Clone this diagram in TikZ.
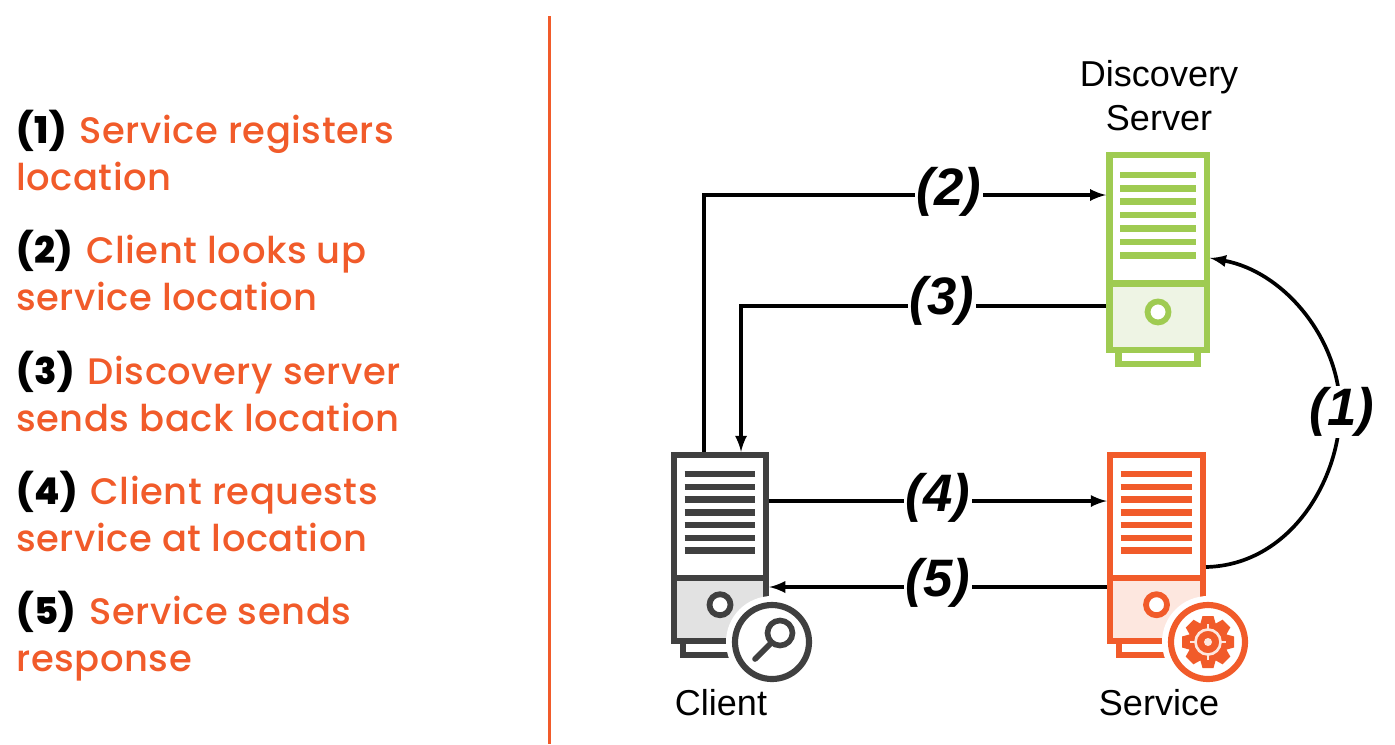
\documentclass[tikz,border=0pt]{standalone}
\usepackage{fontspec}
\setmainfont{Liberation Sans}
\newfontfamily\slidefont[LetterSpace=1.5]{Poppins Medium}
\definecolor{psorange}{HTML}{F15B2A}
\definecolor{psgreen}{HTML}{9FCB52}
\definecolor{psdark}{HTML}{404040}
\definecolor{tintorange}{HTML}{FDE7DF}
\definecolor{tintgreen}{HTML}{EEF4E4}
\definecolor{tintdark}{HTML}{E2E2E2}
\tikzset{
  towerline/.style={line width=3.7pt,line join=miter},
  flow/.style={line width=2.1pt,black},
  flag/.style={fill=white,inner sep=1pt,font=\fontsize{30}{30}\selectfont\bfseries\itshape},
  caption/.style={font=\fontsize{20.5}{25}\selectfont,align=center,anchor=base},
  stepnote/.style={font=\slidefont\fontsize{21}{26.2}\selectfont,text=psorange,align=left,anchor=base west,inner sep=0pt}
}
% name, colour, tint, left, top, width, height
\newcommand{\towerbox}[7]{
\begin{scope}[shift={(#4,#5)}]
\draw[towerline,#2,fill=white] (#6*.095,#7) rectangle (#6*.905,#7+14);
\node[towerline,draw=#2,fill=#3,minimum width=#6*0.02cm,minimum height=#7*0.02cm,inner sep=0pt] (#1) at (#6/2,#7/2) {};
\draw[towerline,#2,fill=white] (0,0) rectangle (#6,#7*.66);
\foreach \r in {0,...,6}
\draw[towerline,#2] (#6*.115,#7*.102+#7*.0687*\r) -- (#6*.885,#7*.102+#7*.0687*\r);
\draw[line width=3.3pt,#2,fill=white] (#6*.5,#7*.805) circle[radius=10.5];
\end{scope}
}
\begin{document}
\begin{tikzpicture}[x=0.02cm,y=-0.02cm]
\useasboundingbox (0,0) rectangle (1395,744);
\draw[line width=1.7pt,psorange] (549,16) -- (549,744);
% left column
\foreach \n/\first/\second/\y in {1/Service registers/location/190,
  2/Client looks up/service location/310,
  3/Discovery server/sends back location/431,
  4/Client requests/service at location/551,
  5/Service sends/response/671}
\node[stepnote] (note\n) at (16,\y) {\textcolor{black}{\bfseries(\n)}\hspace{1.7pt} \first\\\second};
% towers
\towerbox{disc}{psgreen}{tintgreen}{1109.25}{155}{97.5}{195}
\towerbox{client}{psdark}{tintdark}{674}{455}{92}{186}
\towerbox{serv}{psorange}{tintorange}{1110}{455}{93}{186}
% client badge
\fill[white] (772,642) circle[radius=46];
\node[draw=psdark,line width=3.5pt,fill=white,circle,minimum size=74*0.02cm,inner sep=0pt] (lens) at (772,642) {};
\draw[line width=3.2pt,psdark] (780,633) circle[radius=12.5];
\draw[line width=3.2pt,psdark,line cap=round] (771,643) -- (755,659);
% service badge
\fill[white] (1208,642) circle[radius=46];
\node[draw=psorange,line width=3.5pt,fill=white,circle,minimum size=74*0.02cm,inner sep=0pt] (gear) at (1208,642) {};
\fill[psorange] (1208,642) circle[radius=20];
\foreach \a in {0,45,...,315}
\fill[psorange,shift={(1208,642)},rotate=\a] (-8,-17) -- (-5.5,-26) -- (5.5,-26) -- (8,-17) -- cycle;
\draw[line width=1.5pt,tintorange] (1208,642) circle[radius=12.5];
\foreach \a in {0,90,180,270}
\draw[line width=1.5pt,tintorange,shift={(1208,642)},rotate=\a] (0,-12.5) -- (0,-18);
\fill[tintorange] (1208,642) circle[radius=4];
% captions
\node[caption] (disclabel) at (1159,130) {Discovery\\Server};
\node[caption] (clientlabel) at (721,715) {Client};
\node[caption] (servlabel) at (1159,715) {Service};
% connectors
\coordinate (lookup) at (704,195);
\coordinate (answer) at (741,306);
\coordinate (callin) at (0,501);
\coordinate (callout) at (0,587);
\coordinate (regin) at (1210,258);
\coordinate (regout) at (1206,567);
\draw[flow,-latex] (client.north -| lookup) -- (lookup) -- (lookup -| disc.west);
\draw[flow,-latex] (answer -| disc.west) -- (answer) -- (answer |- client.north);
\draw[flow,-latex] (callin -| client.east) -- (callin -| serv.west);
\draw[flow,-latex] (callout -| serv.west) -- (callout -| client.east);
\draw[flow,-latex] (regout) .. controls (1290,565) and (1340,480) .. (1340,410) .. controls (1340,340) and (1285,272) .. (regin);
% step labels
\node[flag] (flagone) at (1342,412) {(1)};
\node[flag] (flagtwo) at (949,192) {(2)};
\node[flag] (flagthree) at (942,301) {(3)};
\node[flag] (flagfour) at (938,498) {(4)};
\node[flag] (flagfive) at (938,583) {(5)};
\end{tikzpicture}
\end{document}
